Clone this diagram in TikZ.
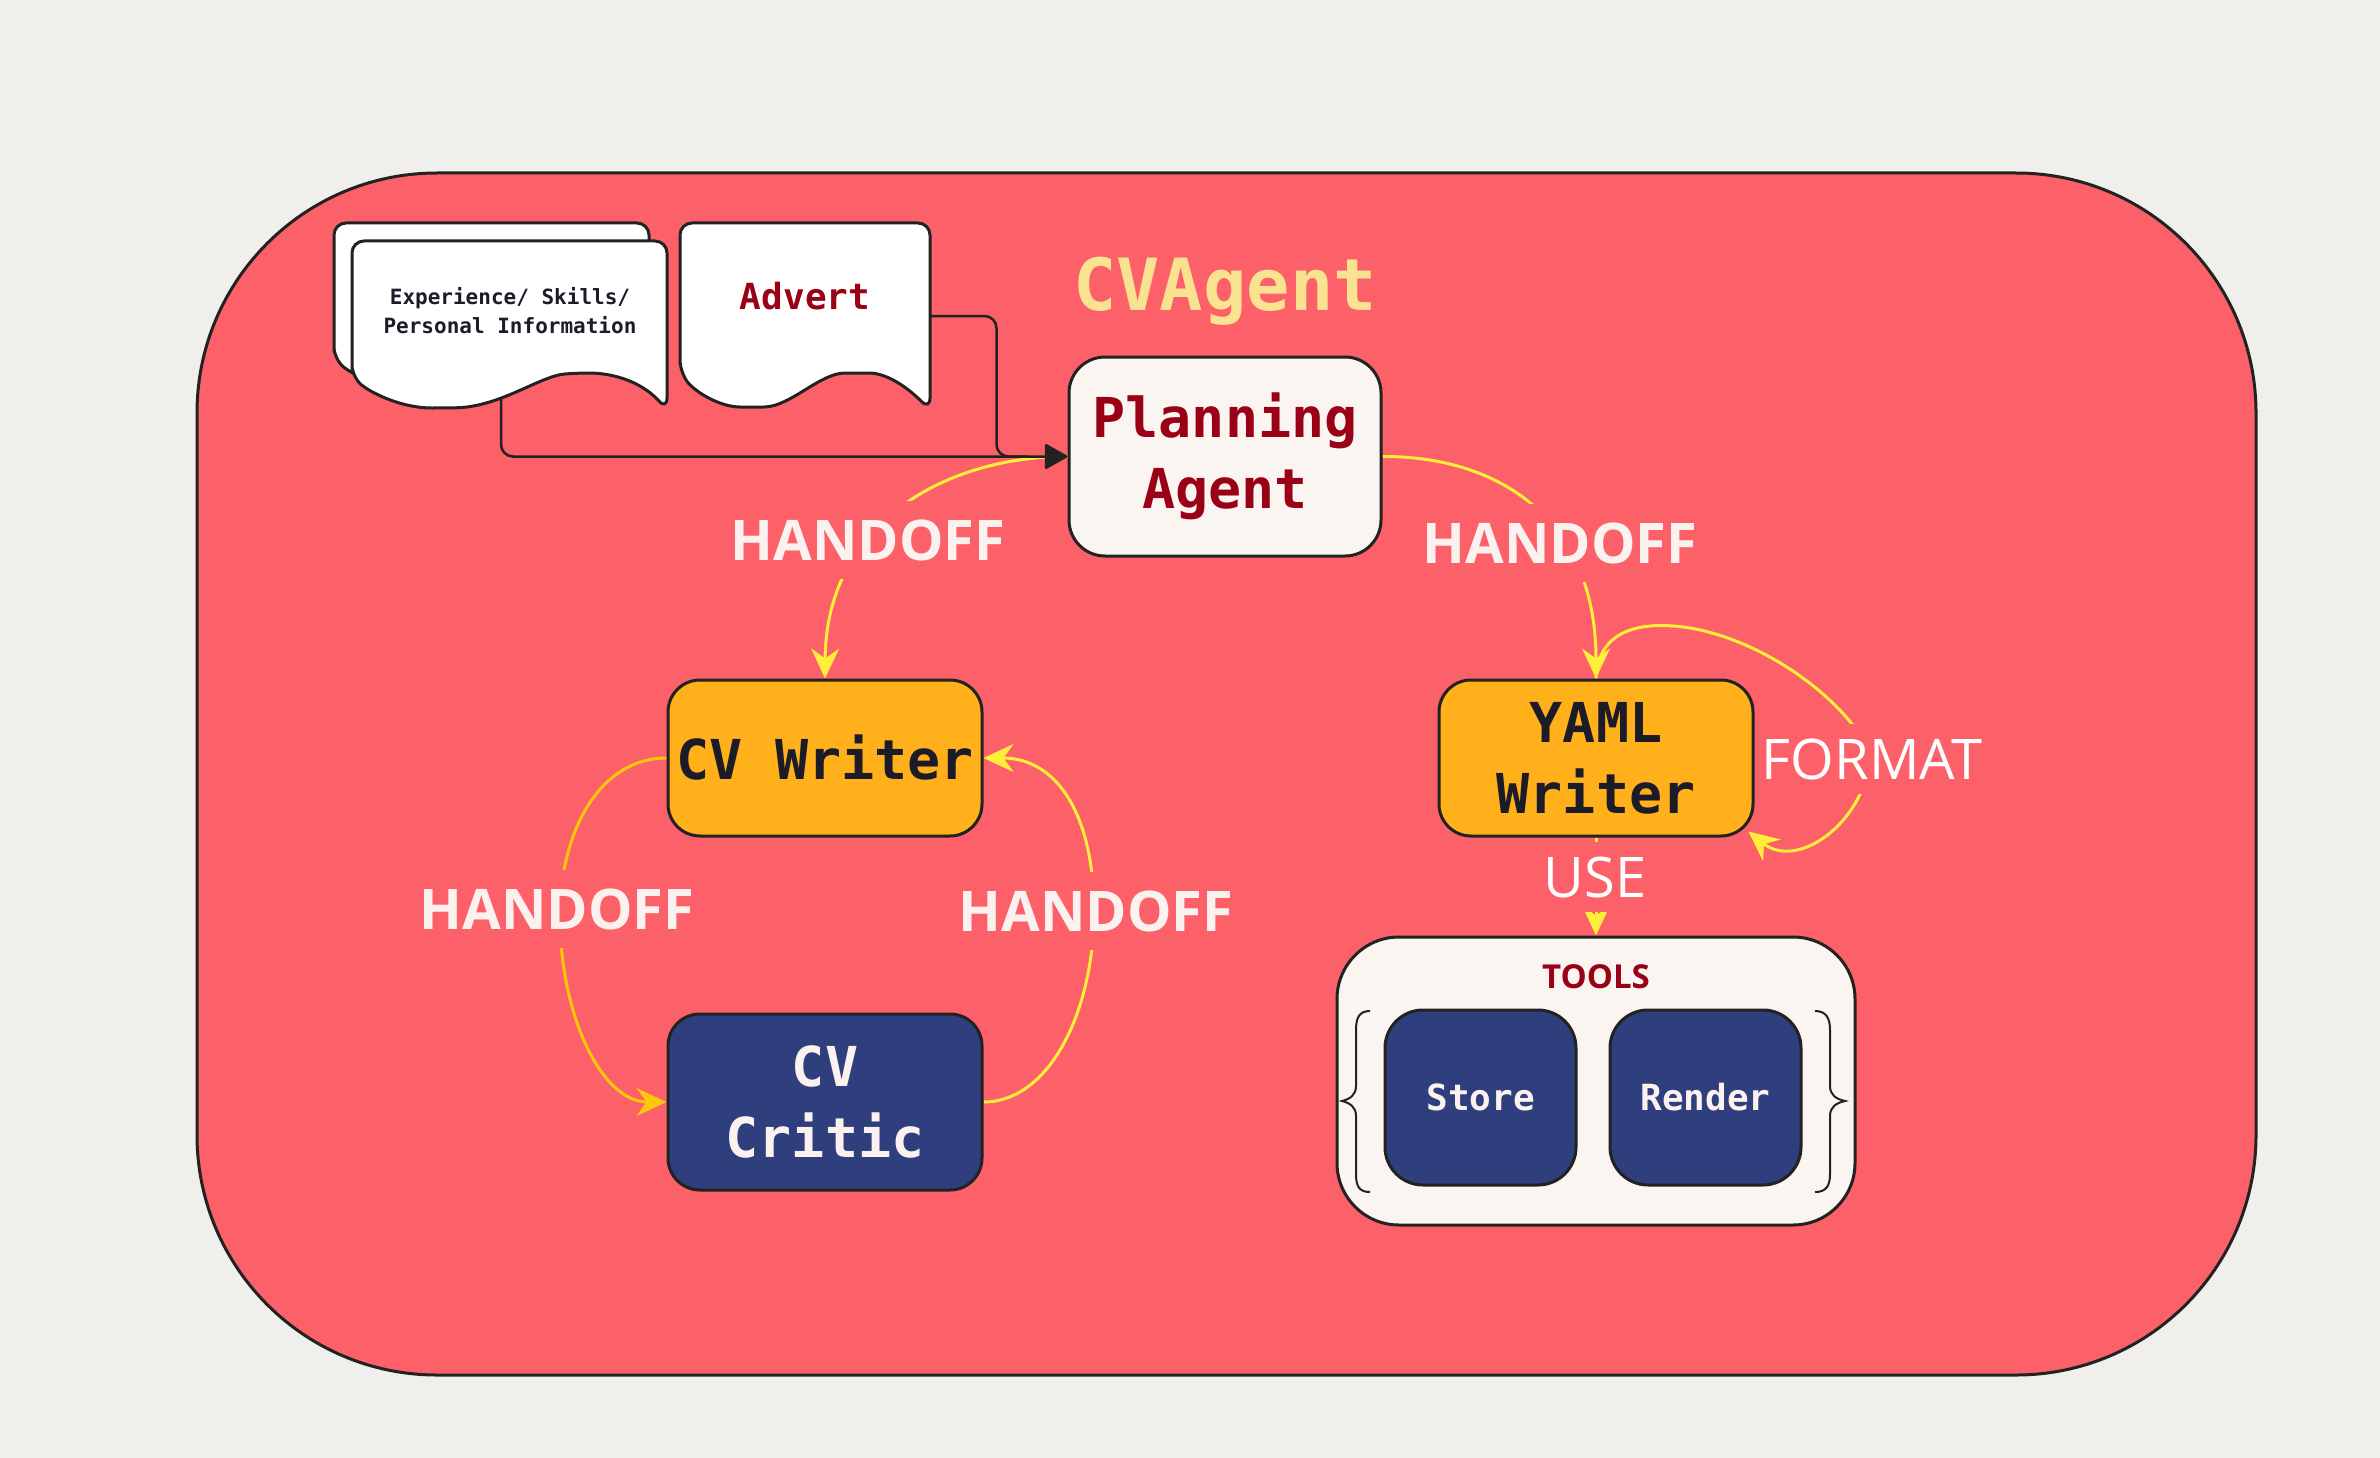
\documentclass[tikz,border=0pt]{standalone}
\usepackage{fontspec}
\setmainfont{Open Sans}
\newfontfamily\mono{DejaVu Sans Mono}
\usetikzlibrary{arrows.meta}
\definecolor{pagebg}{HTML}{F0EFEB}
\definecolor{coral}{HTML}{FC6068}
\definecolor{ink}{HTML}{222222}
\definecolor{offwhite}{HTML}{FBF5F2}
\definecolor{amber}{HTML}{FFB01A}
\definecolor{navy}{HTML}{2F3F7E}
\definecolor{darkred}{HTML}{9A0016}
\definecolor{lightyel}{HTML}{FAE390}
\definecolor{lineyel}{HTML}{FFEE3A}
\definecolor{linegold}{HTML}{FFC70A}
\definecolor{pinkwhite}{HTML}{FBF1EF}
\definecolor{textdark}{HTML}{1C1C28}
\pgfdeclarelayer{base}
\pgfdeclarelayer{conn}
\pgfdeclarelayer{lbl}
\pgfsetlayers{base,conn,lbl,main}
\tikzset{
  agent/.style={draw=ink, line width=3pt, rounded corners=32pt, align=center, inner sep=0pt,
    font=\mono\bfseries\fontsize{55}{71}\selectfont},
  toolbox/.style={draw=ink, line width=3pt, rounded corners=38pt, fill=navy, text=pinkwhite,
    inner sep=0pt, minimum width=191pt, minimum height=175pt, font=\mono\bfseries\fontsize{36}{40}\selectfont},
  docshape/.style={draw=ink, line width=3pt, fill=white, rounded corners=12pt},
  handoff/.style={fill=coral, text=pinkwhite, font=\bfseries\fontsize{56}{60}\selectfont, inner xsep=6pt, inner ysep=18pt},
  plainlbl/.style={fill=coral, text=white, font=\fontsize{56}{60}\selectfont, inner xsep=4pt, inner ysep=14pt},
  yarrow/.style={draw=lineyel, line width=3pt, -{Stealth[length=30pt,width=28pt,inset=10pt]}},
  darkconn/.style={draw=ink, line width=2.5pt, rounded corners=12pt},
  bracepath/.style={draw=ink, line width=2pt}
}
\begin{document}
\begin{tikzpicture}[x=1pt,y=-1pt]
\begin{pgfonlayer}{base}
\fill[pagebg] (0,0) rectangle (2380,1458);
\draw[ink, line width=3pt, fill=coral, rounded corners=240pt] (197,173) rectangle (2256,1375);
\end{pgfonlayer}
\useasboundingbox (0,0) rectangle (2380,1458);

% title
\node[anchor=base, text=lightyel, font=\mono\bfseries\fontsize{72}{80}\selectfont, inner sep=0pt] (title) at (1225,310) {CVAgent};

% documents
\draw[docshape] (334,359) -- (334,223) -- (649,223) -- (649,392)
  .. controls (622,362) and (592,355) .. (559,355)
  .. controls (522,358) and (482,389) .. (426,390)
  .. controls (382,390) and (352,374) .. cycle;
\draw[docshape] (352,377) -- (352,241) -- (667,241) -- (667,410)
  .. controls (640,380) and (610,373) .. (577,373)
  .. controls (540,376) and (500,407) .. (444,408)
  .. controls (400,408) and (370,392) .. cycle;
\node[font=\mono\bfseries\fontsize{21}{29}\selectfont, align=center, text=textdark, inner sep=0pt] (exp) at (510,311) {Experience/ Skills/\\Personal Information};
\draw[docshape] (680,372) -- (680,223) -- (930,223) -- (930,410)
  .. controls (905,385) and (885,373) .. (857,373)
  .. controls (820,373) and (790,407) .. (752,407)
  .. controls (720,407) and (695,392) .. cycle;
\node[font=\mono\bfseries\fontsize{36}{40}\selectfont, text=darkred, anchor=base, inner sep=0pt] (adv) at (805,309) {Advert};
\coordinate (expfoot) at (501,395);
\coordinate (advside) at (930,316);

% agents
\node[agent, fill=offwhite, text=darkred, minimum width=312pt, minimum height=199pt, rounded corners=36pt] (PA) at (1225,456.5) {Planning\\Agent};
\node[agent, fill=amber, text=textdark, minimum width=314pt, minimum height=156pt] (CVW) at (825,758) {CV Writer};
\node[agent, fill=navy, text=pinkwhite, minimum width=314pt, minimum height=176pt] (CVC) at (825,1102) {CV\\Critic};
\node[agent, fill=amber, text=textdark, minimum width=314pt, minimum height=156pt] (YW) at (1596,758) {YAML\\Writer};

% tools
\node[draw=ink, line width=3pt, fill=offwhite, rounded corners=62pt, minimum width=518pt, minimum height=288pt, inner sep=0pt] (TL) at (1596,1081) {};
\node[text=darkred, font=\bfseries\fontsize{33}{36}\selectfont, inner sep=0pt] (tltitle) at (1596,977) {TOOLS};
\node[toolbox] (ST) at (1480.5,1097.5) {Store};
\node[toolbox] (RD) at (1705.5,1097.5) {Render};
\draw[bracepath] (1370,1011) .. controls (1359,1011) and (1356,1018) .. (1356,1030) -- (1356,1086)
  .. controls (1356,1095) and (1350,1099) .. (1342,1101)
  .. controls (1350,1103) and (1356,1107) .. (1356,1116) -- (1356,1174)
  .. controls (1356,1186) and (1359,1192) .. (1370,1192);
\draw[bracepath] (1815,1011) .. controls (1826,1011) and (1830,1018) .. (1830,1030) -- (1830,1086)
  .. controls (1830,1095) and (1836,1099) .. (1845,1101)
  .. controls (1836,1103) and (1830,1107) .. (1830,1116) -- (1830,1174)
  .. controls (1830,1186) and (1826,1192) .. (1815,1192);

% connectors
\begin{pgfonlayer}{conn}
\draw[yarrow] (PA.west) .. controls (950,456) and (826,520) .. (CVW.north);
\draw[darkconn, -{Triangle[length=24pt,width=26pt,round]}] (expfoot) |- (PA.west);
\draw[darkconn] (advside) -| ([xshift=-71pt]PA.west) -- ([xshift=-40pt]PA.west);
\draw[yarrow] (PA.east) .. controls (1500,456) and (1596,520) .. (YW.north);
\draw[yarrow, draw=linegold] (CVW.west) .. controls (600,758) and (562,830) .. (560,909)
  .. controls (558,1010) and (600,1102) .. (CVC.west);
\draw[yarrow] (CVC.east) .. controls (1050,1102) and (1094,1010) .. (1094,911)
  .. controls (1094,820) and (1060,758) .. (CVW.east);
\draw[yarrow] (YW.north) .. controls (1598,630) and (1640,620) .. (1690,628)
  .. controls (1760,640) and (1830,690) .. (1860,735) -- (1862,790)
  .. controls (1840,840) and (1790,865) .. ([xshift=-6pt,yshift=6pt]YW.south east);
\draw[yarrow] (YW.south) -- (TL.north);
\end{pgfonlayer}

% labels
\begin{pgfonlayer}{lbl}
\node[handoff] (h1) at (868,540) {HANDOFF};
\node[handoff] (h2) at (1560,543) {HANDOFF};
\node[handoff] (h3) at (557,909) {HANDOFF};
\node[handoff] (h4) at (1096,911) {HANDOFF};
\node[plainlbl] (fmt) at (1872,759) {FORMAT};
\node[plainlbl] (use) at (1595,877) {USE};
\end{pgfonlayer}
\end{tikzpicture}
\end{document}
